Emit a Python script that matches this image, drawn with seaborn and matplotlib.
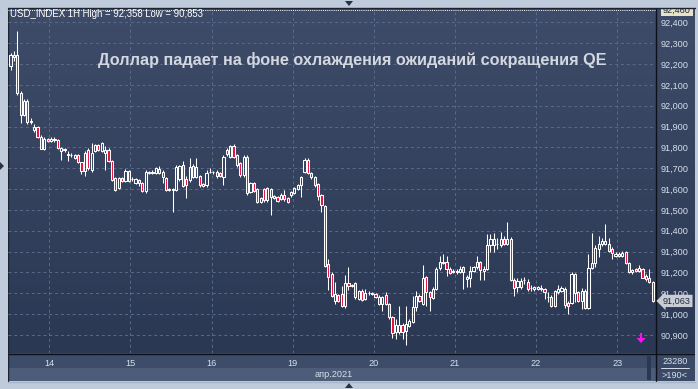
import matplotlib
matplotlib.use("Agg")
import numpy as np
import pandas as pd
import matplotlib.pyplot as plt
from matplotlib.patches import Rectangle, Polygon
from matplotlib.colors import LinearSegmentedColormap
from matplotlib.transforms import blended_transform_factory
import seaborn as sns

# ---- chart content -------------------------------------------------------
symbol = "USD_INDEX"
timeframe = "1H"
title = "Доллар падает на фоне охлаждения ожиданий сокращения QE"
month_label = "апр.2021"
day_labels = ["14", "15", "16", "19", "20", "21", "22", "23"]
bars_before_first_day = 12
bars_per_day = 24
history_count = "23280"
visible_count = ">190<"

# hourly candles, 13 Apr 12:00 .. 23 Apr 10:00
open_ = [
    92.189, 92.232, 92.245, 92.061, 91.957, 92.024, 91.922, 91.885, 91.900, 91.852,
    91.794, 91.838, 91.832, 91.842, 91.837, 91.781, 91.790, 91.768, 91.765, 91.749,
    91.765, 91.728, 91.685, 91.789, 91.690, 91.781, 91.810, 91.781, 91.773, 91.789,
    91.733, 91.653, 91.605, 91.653, 91.637, 91.685, 91.650, 91.629, 91.643, 91.627,
    91.589, 91.680, 91.683, 91.675, 91.694, 91.683, 91.651, 91.595, 91.595, 91.595,
    91.649, 91.715, 91.650, 91.643, 91.710, 91.659, 91.662, 91.623, 91.619, 91.683,
    91.680, 91.683, 91.675, 91.659, 91.787, 91.755, 91.806, 91.763, 91.723, 91.667,
    91.755, 91.587, 91.630, 91.598, 91.539, 91.598, 91.547, 91.598, 91.558, 91.560,
    91.551, 91.571, 91.555, 91.571, 91.579, 91.600, 91.619, 91.683, 91.739, 91.678,
    91.656, 91.624, 91.571, 91.518, 91.238, 91.192, 91.064, 91.091, 91.096, 91.037,
    91.149, 91.139, 91.147, 91.072, 91.112, 91.072, 91.099, 91.100, 91.096, 91.080,
    91.048, 91.091, 91.048, 90.984, 90.912, 90.915, 90.947, 90.920, 90.944, 90.962,
    91.032, 91.088, 91.050, 91.176, 91.107, 91.079, 91.120, 91.219, 91.245, 91.248,
    91.218, 91.205, 91.200, 91.203, 91.224, 91.180, 91.171, 91.208, 91.224, 91.250,
    91.208, 91.216, 91.330, 91.330, 91.338, 91.330, 91.362, 91.335, 91.362, 91.165,
    91.130, 91.130, 91.162, 91.154, 91.126, 91.120, 91.122, 91.124, 91.119, 91.083,
    91.083, 91.039, 91.104, 91.111, 91.122, 91.055, 91.052, 91.191, 91.106, 91.063,
    91.111, 91.031, 91.223, 91.247, 91.311, 91.335, 91.351, 91.335, 91.314, 91.278,
    91.290, 91.280, 91.298, 91.247, 91.200, 91.216, 91.208, 91.215, 91.183, 91.175,
    91.154,
]
high = [
    92.252, 92.262, 92.358, 92.072, 92.034, 92.030, 91.940, 91.912, 91.905, 91.858,
    91.848, 91.846, 91.850, 91.848, 91.842, 91.803, 91.796, 91.781, 91.772, 91.770,
    91.768, 91.732, 91.781, 91.795, 91.821, 91.816, 91.815, 91.826, 91.805, 91.795,
    91.738, 91.660, 91.660, 91.660, 91.695, 91.690, 91.656, 91.655, 91.648, 91.632,
    91.690, 91.688, 91.690, 91.704, 91.712, 91.690, 91.656, 91.604, 91.603, 91.715,
    91.716, 91.735, 91.662, 91.747, 91.718, 91.747, 91.668, 91.630, 91.690, 91.700,
    91.688, 91.690, 91.684, 91.763, 91.795, 91.812, 91.814, 91.770, 91.730, 91.762,
    91.762, 91.636, 91.636, 91.604, 91.562, 91.605, 91.610, 91.605, 91.572, 91.566,
    91.580, 91.595, 91.560, 91.592, 91.612, 91.624, 91.662, 91.747, 91.747, 91.684,
    91.662, 91.630, 91.576, 91.522, 91.262, 91.203, 91.155, 91.098, 91.136, 91.187,
    91.224, 91.146, 91.152, 91.117, 91.118, 91.120, 91.112, 91.106, 91.102, 91.091,
    91.085, 91.104, 91.053, 90.990, 90.976, 91.040, 90.955, 91.040, 90.975, 91.088,
    91.112, 91.094, 91.234, 91.182, 91.112, 91.130, 91.226, 91.280, 91.288, 91.279,
    91.226, 91.218, 91.214, 91.232, 91.230, 91.186, 91.232, 91.230, 91.279, 91.256,
    91.230, 91.383, 91.383, 91.390, 91.366, 91.392, 91.375, 91.440, 91.368, 91.172,
    91.172, 91.175, 91.178, 91.170, 91.140, 91.136, 91.135, 91.140, 91.126, 91.104,
    91.090, 91.116, 91.138, 91.134, 91.130, 91.062, 91.202, 91.198, 91.112, 91.127,
    91.118, 91.287, 91.391, 91.330, 91.375, 91.367, 91.431, 91.367, 91.320, 91.300,
    91.298, 91.302, 91.304, 91.252, 91.218, 91.222, 91.234, 91.222, 91.192, 91.216,
    91.160,
]
low = [
    92.173, 92.214, 92.050, 91.917, 91.950, 91.914, 91.912, 91.875, 91.845, 91.790,
    91.788, 91.826, 91.826, 91.828, 91.792, 91.741, 91.780, 91.733, 91.752, 91.744,
    91.726, 91.672, 91.661, 91.690, 91.684, 91.776, 91.783, 91.776, 91.693, 91.728,
    91.640, 91.590, 91.600, 91.632, 91.632, 91.632, 91.640, 91.624, 91.616, 91.584,
    91.579, 91.670, 91.672, 91.670, 91.674, 91.627, 91.590, 91.590, 91.491, 91.590,
    91.640, 91.608, 91.555, 91.636, 91.652, 91.652, 91.612, 91.612, 91.612, 91.676,
    91.672, 91.655, 91.656, 91.619, 91.760, 91.750, 91.748, 91.708, 91.660, 91.660,
    91.572, 91.580, 91.584, 91.532, 91.534, 91.540, 91.540, 91.475, 91.550, 91.538,
    91.546, 91.545, 91.533, 91.560, 91.574, 91.595, 91.563, 91.676, 91.672, 91.650,
    91.612, 91.547, 91.491, 91.224, 91.115, 91.080, 91.050, 91.058, 91.032, 91.030,
    91.115, 91.128, 91.072, 91.066, 91.064, 91.068, 91.090, 91.092, 91.076, 91.043,
    91.016, 91.043, 90.978, 90.883, 90.880, 90.906, 90.880, 90.853, 90.938, 90.956,
    91.016, 91.058, 91.044, 91.040, 91.016, 91.072, 91.114, 91.212, 91.238, 91.184,
    91.192, 91.196, 91.194, 91.198, 91.122, 91.128, 91.128, 91.203, 91.218, 91.165,
    91.165, 91.210, 91.300, 91.298, 91.312, 91.324, 91.330, 91.330, 91.160, 91.087,
    91.108, 91.120, 91.145, 91.112, 91.110, 91.112, 91.114, 91.110, 91.074, 91.058,
    91.034, 91.034, 91.098, 91.106, 91.030, 91.000, 91.046, 91.059, 91.058, 91.022,
    91.026, 91.026, 91.218, 91.226, 91.272, 91.328, 91.330, 91.298, 91.262, 91.272,
    91.272, 91.274, 91.240, 91.196, 91.190, 91.203, 91.202, 91.172, 91.160, 91.148,
    91.058,
]
close = [
    92.245, 92.245, 92.061, 91.957, 92.024, 91.922, 91.928, 91.900, 91.850, 91.794,
    91.840, 91.832, 91.842, 91.834, 91.797, 91.797, 91.786, 91.765, 91.762, 91.765,
    91.730, 91.685, 91.773, 91.701, 91.773, 91.810, 91.789, 91.821, 91.789, 91.733,
    91.645, 91.597, 91.653, 91.637, 91.688, 91.637, 91.648, 91.650, 91.627, 91.589,
    91.683, 91.678, 91.676, 91.699, 91.678, 91.659, 91.595, 91.600, 91.600, 91.707,
    91.710, 91.613, 91.620, 91.707, 91.659, 91.707, 91.619, 91.616, 91.678, 91.684,
    91.684, 91.662, 91.664, 91.755, 91.768, 91.806, 91.755, 91.715, 91.667, 91.755,
    91.579, 91.630, 91.590, 91.539, 91.555, 91.547, 91.603, 91.560, 91.566, 91.544,
    91.571, 91.551, 91.539, 91.587, 91.606, 91.619, 91.656, 91.739, 91.678, 91.656,
    91.619, 91.566, 91.523, 91.230, 91.179, 91.086, 91.096, 91.064, 91.037, 91.149,
    91.136, 91.133, 91.080, 91.112, 91.069, 91.099, 91.102, 91.098, 91.080, 91.048,
    91.080, 91.048, 90.984, 90.909, 90.947, 90.947, 90.915, 90.952, 90.968, 91.032,
    91.088, 91.064, 91.171, 91.107, 91.084, 91.122, 91.218, 91.248, 91.250, 91.216,
    91.199, 91.203, 91.208, 91.218, 91.200, 91.170, 91.208, 91.224, 91.250, 91.212,
    91.216, 91.330, 91.362, 91.359, 91.335, 91.362, 91.335, 91.362, 91.165, 91.127,
    91.160, 91.160, 91.165, 91.119, 91.123, 91.128, 91.130, 91.118, 91.104, 91.080,
    91.039, 91.111, 91.122, 91.127, 91.042, 91.039, 91.191, 91.103, 91.063, 91.111,
    91.031, 91.223, 91.247, 91.319, 91.335, 91.351, 91.335, 91.303, 91.295, 91.290,
    91.278, 91.295, 91.247, 91.202, 91.213, 91.208, 91.220, 91.175, 91.167, 91.154,
    91.063,
]

df = pd.DataFrame({"open": open_, "high": high, "low": low, "close": close})
df["bar"] = np.arange(len(df))
df["falling"] = df["close"] < df["open"]
df["body_lo"] = df[["open", "close"]].min(axis=1)
df["body_hi"] = df[["open", "close"]].max(axis=1)


def fmt_price(v):
    return f"{v:.3f}".replace(".", ",")


# ---- style ----------------------------------------------------------------
sns.set_theme(style="dark")
plt.rcParams["font.family"] = ["Liberation Sans", "DejaVu Sans"]

W, H = 698, 389
BG_OUTER = "#bfcbdb"
GRAD_TOP = "#3e4c69"
GRAD_BOT = "#2b3853"
GRID = "#5a6a8a"
TEXT = "#d8dfeb"
RED = "#e3123c"

fig = plt.figure(figsize=(W / 100, H / 100), dpi=100, facecolor=BG_OUTER)

# chrome drawn in pixel coordinates underneath the chart
ui = fig.add_axes([0, 0, 1, 1], zorder=0)
ui.set_facecolor(BG_OUTER)
grad = np.linspace(0, 1, 256).reshape(-1, 1)
cmap = LinearSegmentedColormap.from_list("panel", [GRAD_TOP, GRAD_BOT])
ui.imshow(grad, extent=(8, 695, 353, 8), origin="upper", aspect="auto", cmap=cmap)
ui.add_patch(Rectangle((8, 353), 648, 15, color="#3d4c69", lw=0))
ui.add_patch(Rectangle((8, 368), 648, 13, color="#4d5c79", lw=0))
ui.add_patch(Rectangle((656, 353), 39, 28, color="#3a4965", lw=0))
ui.add_patch(Rectangle((647, 356), 4, 24, color="#2c3850", lw=0))
ui.plot([656, 656], [8, 381], color="#0d1018", lw=1.0)
ui.plot([8, 695], [353.5, 353.5], color="#0d1018", lw=1.0)
ui.plot([8, 8], [8, 382], color="#1c2333", lw=1.0)
ui.set_xlim(0, W)
ui.set_ylim(H, 0)
ui.axis("off")

# ---- price chart ----------------------------------------------------------
ax = fig.add_axes([8 / W, 1 - 353 / H, 648 / W, 345 / H], zorder=1)
ax.patch.set_alpha(0)
ax.set_xlim(-0.74, 190.98)
ax.set_ylim(90.813, 92.469)

day_pos = [bars_before_first_day + bars_per_day * k - 0.5 for k in range(len(day_labels))]
ax.set_xticks(day_pos, day_labels)
price_ticks = np.round(np.arange(90.9, 92.41, 0.1), 1)
ax.set_yticks(price_ticks, [fmt_price(v) for v in price_ticks])
ax.yaxis.tick_right()
ax.tick_params(axis="y", length=0, pad=3.2, labelsize=6.6, labelcolor=TEXT)
ax.tick_params(axis="x", length=0, pad=4.0, labelsize=6.6, labelcolor=TEXT)
ax.grid(True, color=GRID, linestyle=(0, (3, 3)), linewidth=0.7)
sns.despine(ax=ax, left=True, bottom=True, right=True, top=True)

# top-of-scale marker line
ax.axhline(92.460, color="white", linestyle=(0, (1, 1.2)), linewidth=0.7)

# wicks
ax.vlines(df["bar"], df["body_hi"], df["high"], color="white", linewidth=0.75, zorder=2)
ax.vlines(df["bar"], df["low"], df["body_lo"], color="white", linewidth=0.75, zorder=2)
# bodies: falling filled red, rising hollow
ax.bar(df["bar"], df["body_hi"] - df["body_lo"], bottom=df["body_lo"], width=0.64,
       color=[RED if f else "none" for f in df["falling"]],
       edgecolor="white", linewidth=0.75, zorder=3)

# last price and top-of-scale tags on the price scale
ytag = blended_transform_factory(ax.transAxes, ax.transData)
ax.text(1.0 + 7 / 648, close[-1], fmt_price(close[-1]), transform=ytag,
        ha="left", va="center", fontsize=6.6, color="#1f2940", clip_on=False,
        bbox=dict(boxstyle="larrow,pad=0.18", fc="#c9cdd3", ec="none"), zorder=5)
ax.text(1.0 + 7 / 648, 92.460, fmt_price(92.460), transform=ytag,
        ha="left", va="center", fontsize=6.6, color="#1f2940", clip_on=False,
        bbox=dict(boxstyle="square,pad=0.2", fc="#e7e3c6", ec="none"), zorder=5)

# ---- overlay chrome ---------------------------------------------------------
ov = fig.add_axes([0, 0, 1, 1], zorder=2)
ov.patch.set_alpha(0)
ov.set_xlim(0, W)
ov.set_ylim(H, 0)
ov.axis("off")
ov.add_patch(Rectangle((0, 0), W, 8, color=BG_OUTER, lw=0))
ov.add_patch(Rectangle((695, 0), 3, H, color=BG_OUTER, lw=0))
ov.add_patch(Rectangle((0, 382), W, 7, color=BG_OUTER, lw=0))
ov.add_patch(Rectangle((0, 0), 7.5, H, color=BG_OUTER, lw=0))
ov.plot([8, 695], [8, 8], color="#1c2333", lw=1.0)
ov.plot([8, 695], [381.5, 381.5], color="#a9b6c8", lw=1.0)
ov.add_patch(Polygon([(345, 1), (353, 1), (349, 6)], color="#2a3142", lw=0))
ov.add_patch(Polygon([(345, 388), (353, 388), (349, 383)], color="#2a3142", lw=0))
ov.add_patch(Polygon([(0, 162), (0, 170), (4, 166)], color="#2a3142", lw=0))

# signal arrow
ov.add_patch(Rectangle((640, 333), 2.2, 6, color="#ff10f0", lw=0))
ov.add_patch(Polygon([(636.5, 338), (645.5, 338), (641, 343)], color="#ff10f0", lw=0))

ov.text(10, 14, f"{symbol} {timeframe} High = {fmt_price(max(high))} Low = {fmt_price(min(low))}",
        ha="left", va="center", fontsize=6.9, color="white")
ov.text(352.5, 60, title, ha="center", va="center", fontsize=11.7, fontweight="bold",
        color="#d3d8e0")
ov.text(334, 374.5, month_label, ha="center", va="center", fontsize=6.6, color=TEXT)
ov.text(675, 361, history_count, ha="center", va="center", fontsize=6.6, color=TEXT)
ov.plot([661, 689], [367.5, 367.5], color=TEXT, lw=0.7)
ov.text(675, 375, visible_count, ha="center", va="center", fontsize=6.6, color=TEXT)

fig.savefig("out.png", dpi=100, facecolor=BG_OUTER)
